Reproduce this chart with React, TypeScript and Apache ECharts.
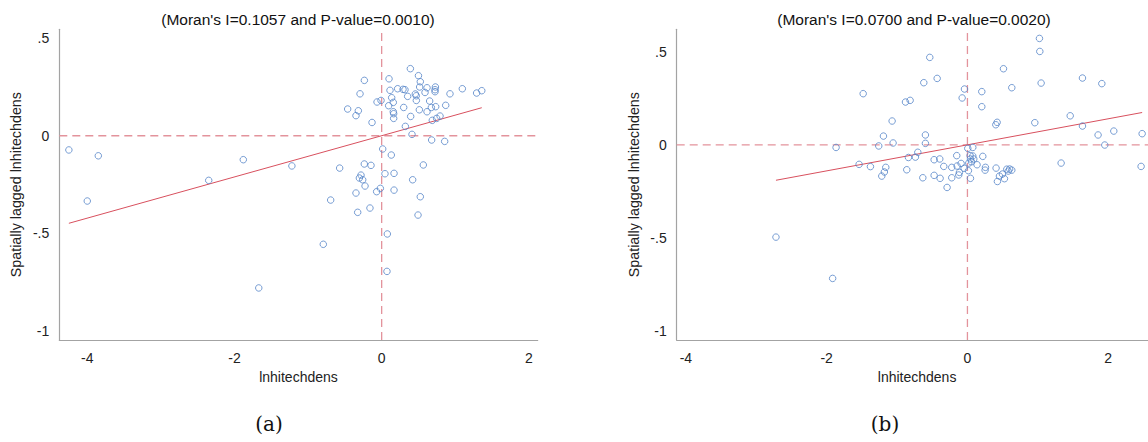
import React, { useEffect, useRef } from "react";
import * as echarts from "echarts";

// ---------- data ----------
const titleA = "(Moran's I=0.1057 and P-value=0.0010)";
const titleB = "(Moran's I=0.0700 and P-value=0.0020)";
const moranA = 0.1057;
const moranB = 0.07;
const xName = "lnhitechdens";
const yName = "Spatially lagged lnhitechdens";
const panelLabels = ["(a)", "(b)"];

const xTicks = [-4, -2, 0, 2];
const yTicks = [-1, -0.5, 0, 0.5];
const yTickLabels = ["-1", "-.5", "0", ".5"];

const pointsA: number[][] = [
  [0.39, 0.344], [0.5, 0.308], [-0.235, 0.284], [0.1, 0.292], [0.525, 0.277],
  [0.516, 0.25], [0.217, 0.241], [0.29, 0.238], [0.317, 0.236], [0.113, 0.233],
  [0.616, 0.246], [0.73, 0.25], [0.725, 0.236], [0.725, 0.226], [1.096, 0.241],
  [1.29, 0.219], [1.36, 0.231], [-0.294, 0.215], [0.136, 0.195], [0.457, 0.214],
  [0.47, 0.205], [0.353, 0.202], [0.589, 0.222], [0.928, 0.215], [-0.063, 0.173],
  [-0.009, 0.181], [0.158, 0.171], [0.652, 0.178], [0.471, 0.181], [-0.462, 0.137],
  [-0.317, 0.128], [-0.349, 0.103], [0.095, 0.154], [0.299, 0.145], [0.158, 0.123],
  [0.163, 0.113], [0.163, 0.089], [0.512, 0.133], [0.675, 0.145], [0.734, 0.149],
  [0.87, 0.156], [0.616, 0.123], [0.394, 0.099], [0.793, 0.101], [0.747, 0.089],
  [0.688, 0.079], [-0.131, 0.068], [0.322, 0.048], [0.412, 0.007], [0.679, -0.022],
  [0.856, -0.029], [0.014, -0.068], [0.131, -0.099], [-0.571, -0.166], [-0.236, -0.145],
  [-0.145, -0.152], [0.566, -0.15], [0.045, -0.195], [0.168, -0.193], [-0.281, -0.202],
  [-0.303, -0.217], [-0.258, -0.226], [-0.226, -0.258], [0.421, -0.226], [-0.349, -0.294],
  [-0.068, -0.287], [-0.018, -0.27], [0.168, -0.279], [0.525, -0.313], [-0.693, -0.33],
  [-0.326, -0.393], [-0.159, -0.371], [0.494, -0.407], [0.077, -0.504], [-0.793, -0.557],
  [0.072, -0.696], [-4.25, -0.073], [-3.85, -0.103], [-4.0, -0.335], [-1.88, -0.123],
  [-2.35, -0.229], [-1.22, -0.155], [-1.67, -0.781],
];

const pointsB: number[][] = [
  [-1.866, -0.014], [-1.193, 0.047], [-1.26, -0.006], [-1.056, 0.01], [-0.597, 0.053],
  [-0.597, 0.008], [-0.705, -0.04], [-0.838, -0.068], [-0.739, -0.066], [-1.539, -0.105],
  [-1.378, -0.117], [-1.16, -0.121], [-1.18, -0.146], [-1.217, -0.168], [-0.862, -0.134],
  [-0.634, -0.177], [-0.473, -0.08], [-0.393, -0.076], [-0.336, -0.116], [-0.473, -0.164],
  [-0.388, -0.18], [-0.289, -0.229], [-0.223, -0.121], [-0.223, -0.177], [-0.152, -0.058],
  [-0.147, -0.114], [-0.114, -0.148], [-0.09, -0.1], [-0.123, -0.162], [-0.047, -0.126],
  [0.014, -0.139], [0.043, -0.18], [0.005, -0.019], [0.076, -0.014], [0.038, -0.058],
  [0.076, -0.06], [0.043, -0.076], [0.09, -0.076], [0.057, -0.091], [0.019, -0.098],
  [0.137, -0.107], [0.218, -0.062], [0.256, -0.121], [0.251, -0.136], [0.407, -0.125],
  [0.455, -0.168], [0.426, -0.197], [0.497, -0.157], [0.526, -0.182], [0.559, -0.131],
  [0.58, -0.141], [0.6, -0.13], [0.63, -0.136],
  [1.023, 0.572], [1.028, 0.502], [0.512, 0.409], [1.634, 0.359], [1.909, 0.329],
  [1.047, 0.332], [0.63, 0.307], [0.204, 0.286], [0.204, 0.205], [1.46, 0.156],
  [0.422, 0.121], [0.403, 0.108], [0.957, 0.119], [1.634, 0.101], [1.856, 0.053],
  [2.079, 0.074], [2.482, 0.06], [1.951, -0.001], [1.331, -0.098], [2.467, -0.116],
  [-0.535, 0.47], [-0.43, 0.357], [-0.62, 0.334], [-1.481, 0.275], [-0.88, 0.23],
  [-0.814, 0.239], [-0.042, 0.3], [-0.075, 0.252], [-1.07, 0.128],
  [-2.72, -0.496], [-1.915, -0.718],
];

// axis ranges
const rangeA = { xMin: -4.38, xMax: 2.12, yMin: -1.048, yMax: 0.546 };
const rangeB = { xMin: -4.13, xMax: 2.7, yMin: -1.049, yMax: 0.621 };

// ---------- styles ----------
const FONT = "Liberation Sans, Arial, sans-serif";
const TEXT = "#222";
const AXIS = "#a3a3a3";
const DOT = "#5585c8";
const FIT = "#d8505e";
const REF = "#e3939c";
const CHART_W = 1200;

function fitLine(pts: number[][], slope: number) {
  const xs = pts.map((p) => p[0]);
  const lo = Math.min(...xs);
  const hi = Math.max(...xs);
  return [
    [lo, slope * lo],
    [hi, slope * hi],
  ];
}

function yLabel(v: number) {
  const i = yTicks.indexOf(v);
  return i >= 0 ? yTickLabels[i] : "";
}

function axes(idx: number, r: typeof rangeA) {
  const x = {
    type: "value",
    gridIndex: idx,
    min: r.xMin,
    max: r.xMax,
    name: xName,
    nameLocation: "middle",
    nameGap: 30,
    nameTextStyle: { fontFamily: FONT, fontSize: 14, color: TEXT },
    axisLine: { show: true, onZero: false, lineStyle: { color: AXIS, width: 1.2 } },
    axisTick: { show: false },
    splitLine: { show: false },
    axisLabel: {
      customValues: xTicks,
      margin: 11,
      fontFamily: FONT,
      fontSize: 14,
      color: TEXT,
      formatter: (v: number) => String(v),
    },
  };
  const y = {
    type: "value",
    gridIndex: idx,
    min: r.yMin,
    max: r.yMax,
    name: yName,
    nameLocation: "middle",
    nameGap: 36,
    nameRotate: 90,
    nameTextStyle: { fontFamily: FONT, fontSize: 14.3, color: TEXT },
    axisLine: { show: true, onZero: false, lineStyle: { color: AXIS, width: 1.2 } },
    axisTick: { show: false },
    splitLine: { show: false },
    axisLabel: {
      customValues: yTicks,
      margin: 10,
      fontFamily: FONT,
      fontSize: 14,
      color: TEXT,
      formatter: (v: number) => yLabel(v),
    },
  };
  return { x, y };
}

function panelSeries(idx: number, pts: number[][], slope: number, r: typeof rangeA) {
  const refStyle = { color: REF, width: 1.3, type: [8, 5] };
  return [
    {
      type: "line",
      xAxisIndex: idx,
      yAxisIndex: idx,
      data: [
        [0, r.yMin],
        [0, r.yMax],
      ],
      symbol: "none",
      lineStyle: refStyle,
      silent: true,
      z: 1,
    },
    {
      type: "line",
      xAxisIndex: idx,
      yAxisIndex: idx,
      data: [
        [r.xMin, 0],
        [r.xMax, 0],
      ],
      symbol: "none",
      lineStyle: refStyle,
      silent: true,
      z: 1,
    },
    {
      type: "line",
      xAxisIndex: idx,
      yAxisIndex: idx,
      data: fitLine(pts, slope),
      symbol: "none",
      lineStyle: { color: FIT, width: 1 },
      silent: true,
      z: 2,
    },
    {
      type: "scatter",
      xAxisIndex: idx,
      yAxisIndex: idx,
      data: pts,
      symbol: "circle",
      symbolSize: 6.5,
      itemStyle: { color: "rgba(0,0,0,0)", borderColor: DOT, borderWidth: 1 },
      z: 3,
    },
  ];
}

export default function App() {
  const ref = useRef<HTMLDivElement>(null);
  useEffect(() => {
    if (!ref.current) return;
    const chart = echarts.init(ref.current, null, { renderer: "svg" });
    const a = axes(0, rangeA);
    const b = axes(1, rangeB);
    chart.setOption({
      animation: false,
      backgroundColor: "#ffffff",
      grid: [
        { left: 59.3, top: 29.3, width: 478.4, height: 310.7 },
        { left: 676.7, top: 29.3, width: 480.8, height: 310.7 },
      ],
      xAxis: [a.x, b.x],
      yAxis: [a.y, b.y],
      series: [
        ...panelSeries(0, pointsA, moranA, rangeA),
        ...panelSeries(1, pointsB, moranB, rangeB),
      ],
      graphic: [
        {
          type: "text",
          x: 298,
          y: 19,
          style: {
            text: titleA,
            fontFamily: FONT,
            fontSize: 15.5,
            fill: "#111",
            align: "center",
            verticalAlign: "middle",
          },
        },
        {
          type: "text",
          x: 914,
          y: 19,
          style: {
            text: titleB,
            fontFamily: FONT,
            fontSize: 15.5,
            fill: "#111",
            align: "center",
            verticalAlign: "middle",
          },
        },
        {
          type: "text",
          x: 269,
          y: 424,
          style: {
            text: panelLabels[0],
            fontFamily: "DejaVu Serif, serif",
            fontSize: 20,
            fill: "#111",
            align: "center",
            verticalAlign: "middle",
          },
        },
        {
          type: "text",
          x: 885,
          y: 424,
          style: {
            text: panelLabels[1],
            fontFamily: "DejaVu Serif, serif",
            fontSize: 20,
            fill: "#111",
            align: "center",
            verticalAlign: "middle",
          },
        },
      ],
    });
    return () => chart.dispose();
  }, []);
  return (
    <div
      style={{
        position: "fixed",
        left: 0,
        top: 0,
        width: 1148,
        height: 442,
        overflow: "hidden",
        background: "#fff",
      }}
    >
      <div ref={ref} style={{ width: CHART_W, height: 442 }} />
    </div>
  );
}
